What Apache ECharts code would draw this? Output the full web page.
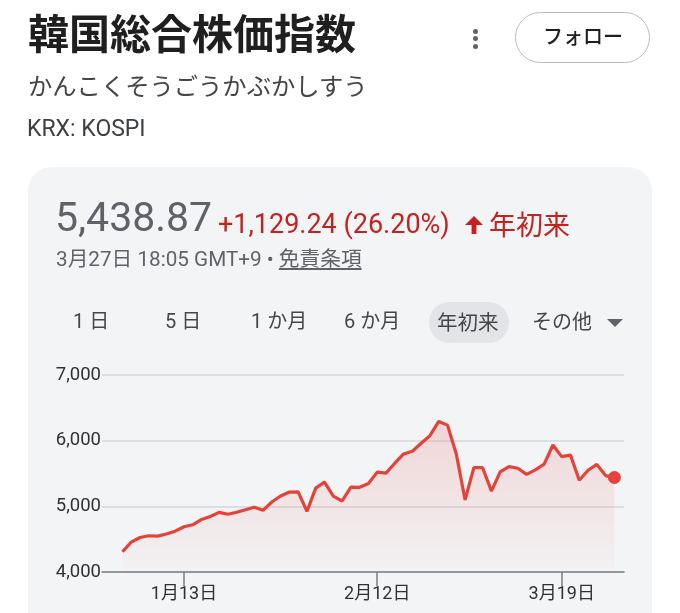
<!DOCTYPE html>
<html lang="ja">
<head>
<meta charset="utf-8">
<script src="https://cdn.jsdelivr.net/npm/echarts@6/dist/echarts.min.js"></script>
<style>
  html, body { margin:0; padding:0; width:680px; height:613px; overflow:hidden; background:#ffffff; }
  .t { position:absolute; white-space:nowrap; font-family: Roboto, "Noto Sans CJK JP", sans-serif; }
  .cjk { font-family: "Noto Sans CJK JP", sans-serif; }
  #card { position:absolute; left:28px; top:167px; width:624px; height:520px; border-radius:24px; background:#f3f4f6; }
  #chart { position:absolute; left:0; top:0; width:680px; height:613px; }
  #follow { position:absolute; left:515px; top:12px; width:135px; height:51px; border:1.5px solid #b9bbbe; border-radius:27px; box-sizing:border-box; }
  .dot { position:absolute; width:5px; height:5px; border-radius:50%; background:#5f6368; left:473px; }
  #pill { position:absolute; left:429px; top:302px; width:80px; height:41px; border-radius:21px; background:#e3e4e7; }
</style>
</head>
<body>
<div id="card"></div>
<div id="chart"></div>

<div class="t cjk" style="left:28px;top:11px;font-size:41px;line-height:41px;font-weight:700;color:#1f1f1f;">韓国総合株価指数</div>
<div class="dot" style="top:29px;"></div>
<div class="dot" style="top:36px;"></div>
<div class="dot" style="top:44px;"></div>
<div id="follow"></div>
<div class="t cjk" style="left:543px;top:26px;font-size:20px;line-height:20px;font-weight:500;color:#1f1f1f;">フォロー</div>

<div class="t cjk" style="left:28px;top:73px;font-size:24.3px;line-height:24px;color:#444746;">かんこくそうごうかぶかしすう</div>
<div class="t" style="left:27px;top:117px;font-size:23px;line-height:23px;color:#3c4043;">KRX: KOSPI</div>

<div class="t" style="left:55px;top:197px;font-size:41px;line-height:41px;color:#5f6368;">5,438.87</div>
<div class="t" style="left:218px;top:211px;font-size:27px;line-height:27px;color:#c5221f;">+1,129.24 (26.20%)</div>
<svg style="position:absolute;left:465px;top:216px;" width="18" height="18" viewBox="0 0 18 18"><path fill="#c5221f" d="M9 0L18 9H11.4V18H6.6V9H0z"/></svg>
<div class="t cjk" style="left:489px;top:210px;font-size:27px;line-height:27px;color:#c5221f;">年初来</div>
<div class="t" style="left:56px;top:249px;font-size:20.7px;line-height:21px;color:#5f6368;">3月27日 18:05 GMT+9 • <span style="text-decoration:underline;">免責条項</span></div>

<div id="pill"></div>
<div class="t" style="left:73px;top:311px;font-size:20px;line-height:20px;color:#444746;">1 日</div>
<div class="t" style="left:165px;top:311px;font-size:20px;line-height:20px;color:#444746;">5 日</div>
<div class="t" style="left:251px;top:311px;font-size:20px;line-height:20px;color:#444746;">1 か月</div>
<div class="t" style="left:344px;top:311px;font-size:20px;line-height:20px;color:#444746;">6 か月</div>
<div class="t cjk" style="left:437px;top:311px;font-size:20.5px;line-height:20px;color:#444746;">年初来</div>
<div class="t cjk" style="left:532px;top:311px;font-size:20px;line-height:20px;color:#444746;">その他</div>
<svg style="position:absolute;left:606px;top:318px;" width="18" height="10" viewBox="0 0 18 10"><path fill="#5f6368" d="M1 1h16l-8 8z"/></svg>

<script>
// Trading dates (2026, month/day)
const dates = [
  '1/2','1/5','1/6','1/7','1/8','1/9','1/12','1/13','1/14','1/15','1/16',
  '1/19','1/20','1/21','1/22','1/23','1/26','1/27','1/28','1/29','1/30',
  '2/2','2/3','2/4','2/5','2/6','2/9','2/10','2/11','2/12','2/13',
  '2/19','2/20','2/23','2/24','2/25','2/26','2/27',
  '3/3','3/4','3/5','3/6','3/9','3/10','3/11','3/12','3/13',
  '3/16','3/17','3/18','3/19','3/20','3/23','3/24','3/25','3/26','3/27'
];
// KOSPI closing values
const values = [
  4309, 4455, 4525, 4552, 4547, 4578, 4622, 4689, 4719, 4800, 4845,
  4908, 4880, 4910, 4949, 4985, 4939, 5066, 5157, 5217, 5220,
  4924, 5278, 5369, 5157, 5081, 5293, 5290, 5348, 5520, 5505,
  5657, 5798, 5838, 5960, 6076, 6293, 6237,
  5798, 5099, 5588, 5588, 5232, 5524, 5605, 5580, 5486,
  5555, 5643, 5934, 5757, 5780, 5398, 5549, 5638, 5468, 5438.87
];
// x-axis tick dates and y-axis ticks
const xTickDates = ['1/13', '2/12', '3/19'];
const yTicks = [4000, 5000, 6000, 7000];

const xTickIdx = xTickDates.map(d => dates.indexOf(d));
const fmtDate = d => { const p = d.split('/'); return p[0] + '月' + p[1] + '日'; };
const lastIdx = values.length - 1;

const chart = echarts.init(document.getElementById('chart'), null, { renderer: 'canvas' });
chart.setOption({
  animation: false,
  backgroundColor: 'transparent',
  grid: { left: 102, right: 56, top: 375, bottom: 41 },
  xAxis: {
    type: 'value',
    min: -2.33,
    max: 57.09,
    splitLine: { show: false },
    axisLine: { show: true, onZero: false, lineStyle: { color: '#7a7e83', width: 1.5 } },
    axisTick: { show: true, customValues: xTickIdx, length: 14, lineStyle: { color: '#7a7e83', width: 1.5 } },
    axisLabel: {
      customValues: xTickIdx,
      formatter: v => fmtDate(dates[Math.round(v)]),
      margin: 14,
      color: '#303134',
      fontSize: 18,
      fontFamily: 'Roboto, "Noto Sans CJK JP", sans-serif'
    }
  },
  yAxis: {
    type: 'value',
    min: yTicks[0],
    max: yTicks[yTicks.length - 1],
    interval: 1000,
    axisLine: { show: false },
    axisTick: { show: false },
    splitLine: { lineStyle: { color: '#d6d7da', width: 1.5 } },
    axisLabel: {
      margin: 1,
      color: '#303134',
      fontSize: 18.5,
      fontFamily: 'Roboto, sans-serif',
      formatter: v => v.toLocaleString('en-US')
    }
  },
  series: [
    {
      type: 'line',
      data: values.map((v, i) => [i, v]),
      symbol: 'none',
      lineStyle: { color: '#e5433a', width: 3.2 },
      areaStyle: {
        origin: 'start',
        color: new echarts.graphic.LinearGradient(0, 0, 0, 1, [
          { offset: 0, color: 'rgba(229,67,58,0.24)' },
          { offset: 1, color: 'rgba(229,67,58,0.02)' }
        ])
      },
      z: 3
    },
    {
      type: 'scatter',
      data: [[lastIdx, values[lastIdx]]],
      symbol: 'circle',
      symbolSize: 13,
      itemStyle: { color: '#e5433a', opacity: 1 },
      emphasis: { disabled: true },
      z: 4
    }
  ]
});
</script>
</body>
</html>
